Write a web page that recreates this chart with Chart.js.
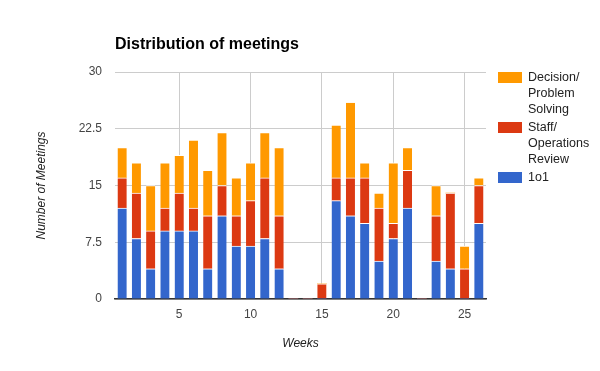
<!DOCTYPE html>
<html>
<head>
<meta charset="utf-8">
<script src="https://cdn.jsdelivr.net/npm/chart.js@4.4.0/dist/chart.umd.min.js"></script>
<style>
  html, body { margin: 0; padding: 0; background: #fff; }
  #wrap { width: 600px; height: 371px; position: relative; }
</style>
</head>
<body>
<div id="wrap"><canvas id="myChart"></canvas></div>
<script>
// weeks on the x axis
const weeks = [1,2,3,4,5,6,7,8,9,10,11,12,13,14,15,16,17,18,19,20,21,22,23,24,25,26];
// meetings per week by type (stacked)
const oneOnOne = [12,8,4,9,9,9,4,11,7,7,8,4,0,0,0,13,11,10,5,8,12,0,5,4,0,10];
const staffOps = [4,6,5,3,5,3,7,4,4,6,8,7,0,0,2,3,5,6,7,2,5,0,6,10,4,5];
const decision = [4,4,6,6,5,9,6,7,5,5,6,9,0,0,0,7,10,2,2,8,3,0,4,0,3,1];
const xTicks = [5,10,15,20,25];
const yTicks = [0,7.5,15,22.5,30];

const chartTitle = "Distribution of meetings";
const FONT = "Arial, 'Liberation Sans', sans-serif";

const toPoints = arr => weeks.map((w, i) => ({ x: w, y: arr[i] }));

// title aligned with the plot's left edge
const titlePlugin = {
  id: 'leftTitle',
  afterDraw(chart) {
    const ctx = chart.ctx;
    ctx.save();
    ctx.font = "bold 16px " + FONT;
    ctx.fillStyle = "#000";
    ctx.textBaseline = "middle";
    ctx.fillText(chartTitle, chart.chartArea.left, 45);
    ctx.restore();
  }
};

// legend on the right with wrapped labels
const legendPlugin = {
  id: 'sideLegend',
  afterDraw(chart) {
    const ctx = chart.ctx;
    const x = chart.chartArea.right + 12;
    let y = chart.chartArea.top;
    ctx.save();
    ctx.font = "12.5px " + FONT;
    ctx.textBaseline = "middle";
    const items = chart.data.datasets.slice().reverse();
    items.forEach(ds => {
      ctx.fillStyle = ds.backgroundColor;
      ctx.fillRect(x, y, 24, 11);
      ctx.fillStyle = "#222";
      ds.legendLines.forEach((line, j) => {
        ctx.fillText(line, x + 30, y + 6 + j * 16);
      });
      y += ds.legendLines.length * 16 + 2;
    });
    ctx.restore();
  }
};

const ctx = document.getElementById("myChart").getContext("2d");
new Chart(ctx, {
  type: "bar",
  data: {
    datasets: [
      { label: "1o1", legendLines: ["1o1"], data: toPoints(oneOnOne),
        backgroundColor: "#3366cc", borderColor: "#fff", borderWidth: { top: 1 }, borderSkipped: false },
      { label: "Staff/ Operations Review", legendLines: ["Staff/", "Operations", "Review"], data: toPoints(staffOps),
        backgroundColor: "#dc3912", borderColor: "#fff", borderWidth: { top: 1 }, borderSkipped: false },
      { label: "Decision/ Problem Solving", legendLines: ["Decision/", "Problem", "Solving"], data: toPoints(decision),
        backgroundColor: "#ff9900", borderColor: "#fff", borderWidth: { top: 1 }, borderSkipped: false }
    ]
  },
  options: {
    responsive: true,
    maintainAspectRatio: false,
    animation: false,
    barThickness: 9,
    layout: { padding: { top: 72, right: 114, left: 0, bottom: 0 } },
    plugins: {
      legend: { display: false },
      tooltip: { enabled: false }
    },
    scales: {
      x: {
        type: "linear",
        stacked: true,
        offset: false,
        min: 0.5,
        max: 26.5,
        afterBuildTicks: scale => { scale.ticks = xTicks.map(v => ({ value: v })); },
        afterFit: scale => { scale.height = 72; },
        grid: { color: "#cccccc", drawTicks: false, offset: false },
        border: { display: true, color: "#333", width: 1.5 },
        ticks: { font: { family: FONT, size: 12 }, color: "#444", padding: 8, maxRotation: 0 },
        title: { display: true, text: "Weeks", font: { family: FONT, size: 12, style: "italic" }, color: "#222", padding: { top: 0, bottom: 20 } }
      },
      y: {
        stacked: true,
        min: 0,
        max: 30,
        afterBuildTicks: scale => { scale.ticks = yTicks.map(v => ({ value: v })); },
        afterFit: scale => { scale.width = 115; },
        grid: { color: "#cccccc", drawTicks: false },
        border: { display: false },
        ticks: { font: { family: FONT, size: 12 }, color: "#444", padding: 13 },
        title: { display: true, text: "Number of Meetings", font: { family: FONT, size: 12, style: "italic" }, color: "#222", padding: { top: 34, bottom: 0 } }
      }
    }
  },
  plugins: [titlePlugin, legendPlugin]
});
</script>
</body>
</html>
